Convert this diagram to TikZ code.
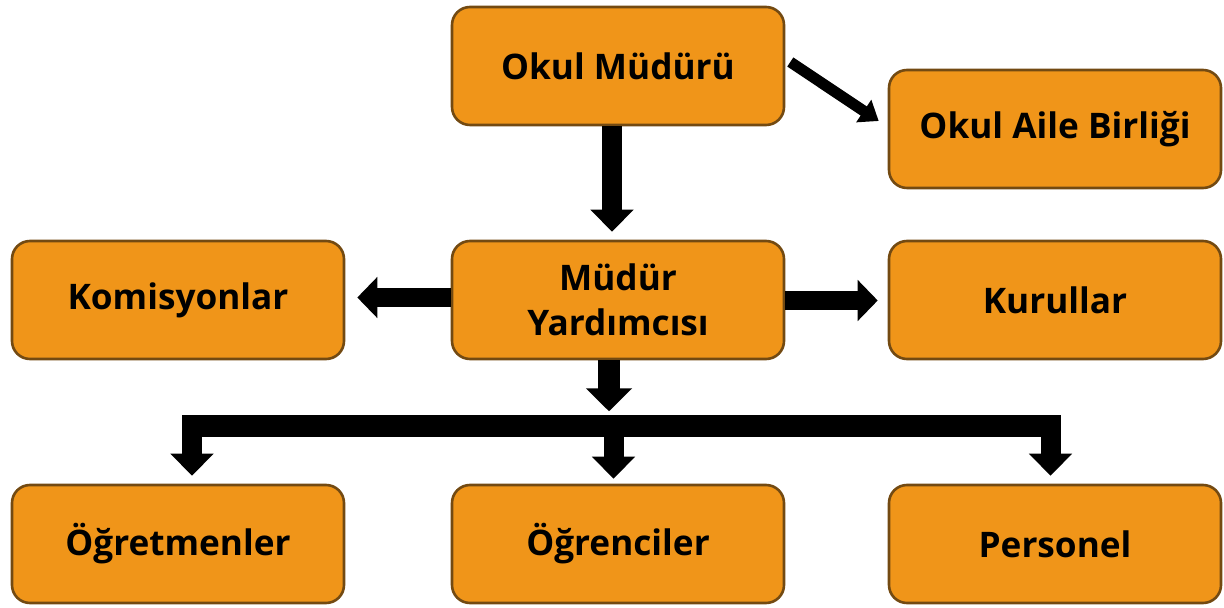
\documentclass[tikz,border=0pt]{standalone}
\usepackage{fontspec}
\setmainfont{Open Sans}
\usetikzlibrary{arrows.meta,calc}
\definecolor{boxfill}{RGB}{240,149,25}
\definecolor{boxline}{RGB}{115,74,18}
\begin{document}
\begin{tikzpicture}[x=0.5pt,y=-0.5pt,
  box/.style={draw=boxline,line width=1.3pt,fill=boxfill,rounded corners=9pt,
    minimum width=166pt,minimum height=59pt,align=center,
    font=\fontsize{17.6}{22.5}\selectfont\bfseries,text=black,inner sep=2pt},
  bigarrow/.style={line width=10pt,-{Triangle[width=21pt,length=11pt]}},
  midarrow/.style={line width=9.5pt,-{Triangle[width=20pt,length=10pt]}},
  thinarrow/.style={line width=5.5pt,-{Triangle[width=13pt,length=9pt]}},
  busbar/.style={line width=11pt}]
\useasboundingbox (0,0) rectangle (1224,608);
\node[box] (omu) at (618,66) {Okul Müdürü};
\node[box] (oab) at (1055,129) {Okul Aile Birliği};
\node[box] (kom) at (178,300) {Komisyonlar};
\node[box] (my) at (618,300) {Müdür\\Yardımcısı};
\node[box] (kur) at (1055,300) {Kurullar};
\node[box] (ogr) at (178,544) {Öğretmenler};
\node[box] (ogc) at (618,544) {Öğrenciler};
\node[box] (per) at (1055,544) {Personel};
% arrows
\draw[bigarrow] ($(omu.south)+(-6,0)$) -- ($(my.north)+(-6,-8)$);
\draw[thinarrow] ($(omu.east)+(5,-4)$) -- ($(oab.west)+(-9,-8)$);
\draw[midarrow] ($(my.west)+(0,-2.5)$) -- ($(kom.east)+(12,-2.5)$);
\draw[midarrow] ($(my.east)+(0,0.5)$) -- ($(kur.west)+(-10,0.5)$);
\draw[line width=11pt,-{Triangle[width=22.5pt,length=11.5pt]}] ($(my.south)+(-9,0)$) -- ($(my.south)+(-9,51)$);
% bus
\coordinate (busL) at (192,426);
\coordinate (busM) at (613.5,426);
\coordinate (busR) at (1050.5,426);
\draw[busbar] ($(busL)+(-10,0)$) -- ($(busR)+(10.5,0)$);
\draw[bigarrow] ($(busL)+(0,-5)$) -- ($(ogr.north -| busL)+(0,-8)$);
\draw[bigarrow] ($(busM)+(0,-5)$) -- ($(ogc.north -| busM)+(0,-5)$);
\draw[bigarrow] ($(busR)+(0,-5)$) -- ($(per.north -| busR)+(0,-8)$);
\end{tikzpicture}
\end{document}
